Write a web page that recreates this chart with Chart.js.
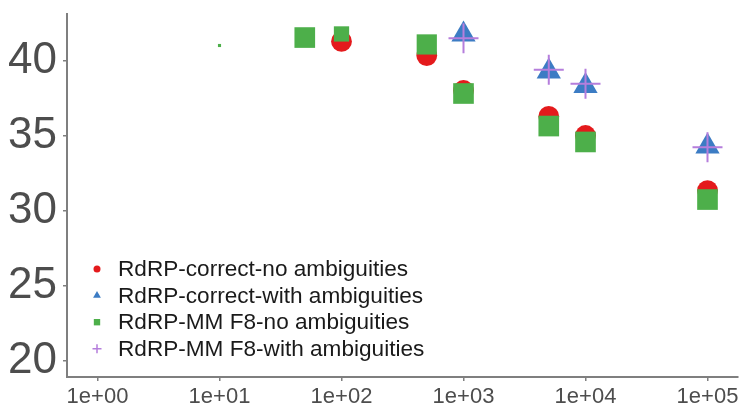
<!DOCTYPE html>
<html>
<head>
<meta charset="utf-8">
<script src="https://cdn.jsdelivr.net/npm/chart.js@4"></script>
<style>
  html, body { margin: 0; padding: 0; background: #ffffff; }
  #wrap { width: 743px; height: 407px; position: relative; }
</style>
</head>
<body>
<div id="wrap"><canvas id="c"></canvas></div>
<script>
// ---- data ----
const seriesNames = [
  'RdRP-correct-no ambiguities',
  'RdRP-correct-with ambiguities',
  'RdRP-MM F8-no ambiguities',
  'RdRP-MM F8-with ambiguities'
];
const redX   = [100, 500, 1000, 5000, 10000, 100000];
const redY   = [41.27, 40.33, 38.0, 36.27, 35.0, 31.33];
const blueX  = [1000, 5000, 10000, 100000];
const blueY  = [41.73, 39.27, 38.3, 34.27];
const greenX = [10, 50, 100, 500, 1000, 5000, 10000, 100000];
const greenY = [41.0, 41.53, 41.77, 41.07, 37.8, 35.63, 34.57, 30.73];
const purpleX = [1000, 5000, 10000, 100000];
const purpleY = [41.49, 39.38, 38.45, 34.22];
const xTicks = [1, 10, 100, 1000, 10000, 100000];
const xTickLabels = ['1e+00', '1e+01', '1e+02', '1e+03', '1e+04', '1e+05'];
const yTicks = [20, 25, 30, 35, 40];

const colors = ['#e41a1c', '#3c7cc4', '#4daf4a', '#b57edc'];

function pts(xs, ys) { return xs.map((x, i) => ({ x: x, y: ys[i] })); }

const FONT = "'Liberation Sans', Arial, sans-serif";

const legendPlugin = {
  id: 'insideLegend',
  afterDraw(chart) {
    const ctx = chart.ctx;
    const styles = ['circle', 'triangle', 'rect', 'cross'];
    const rads = [3.5, 4.5, 4.5, 4.5];
    const x0 = 97, y0 = 269, dy = 26.6;
    ctx.save();
    chart.data.datasets.forEach((ds, i) => {
      const y = y0 + i * dy;
      ctx.fillStyle = colors[i];
      ctx.strokeStyle = colors[i];
      ctx.lineWidth = 1.5;
      Chart.helpers.drawPoint(ctx, {
        pointStyle: styles[i], radius: rads[i], rotation: 0,
        borderWidth: styles[i] === 'cross' ? 1.5 : 0
      }, x0, y);
      ctx.fillStyle = '#1a1a1a';
      ctx.font = '22.6px ' + FONT;
      ctx.textAlign = 'left';
      ctx.textBaseline = 'middle';
      ctx.fillText(ds.label, 118, y + 1);
    });
    ctx.restore();
  }
};

function zeroPad(scale) {
  scale.paddingTop = 0; scale.paddingBottom = 0;
  scale.paddingLeft = 0; scale.paddingRight = 0;
}

new Chart(document.getElementById('c'), {
  type: 'scatter',
  data: {
    datasets: [
      { label: seriesNames[0], data: pts(redX, redY), order: 4,
        pointStyle: 'circle', pointRadius: 10.4, pointHoverRadius: 10.4,
        backgroundColor: colors[0], borderWidth: 0 },
      { label: seriesNames[1], data: pts(blueX, blueY), order: 3,
        pointStyle: 'triangle', pointRadius: 14, pointHoverRadius: 14,
        backgroundColor: colors[1], borderWidth: 0 },
      { label: seriesNames[2], data: pts(greenX, greenY), order: 2,
        pointStyle: 'rect', pointRadius: [2.2, 14.6, 10.8, 14.3, 14.6, 14.6, 14.6, 14.6],
        backgroundColor: colors[2], borderWidth: 0 },
      { label: seriesNames[3], data: pts(purpleX, purpleY), order: 1,
        pointStyle: 'cross', pointRadius: 15, pointHoverRadius: 15,
        backgroundColor: colors[3], borderColor: colors[3], borderWidth: 2 }
    ]
  },
  options: {
    responsive: true,
    maintainAspectRatio: false,
    animation: false,
    layout: { autoPadding: false, padding: { top: 14, right: 5, left: 0, bottom: 0 } },
    plugins: { legend: { display: false }, tooltip: { enabled: false }, title: { display: false } },
    scales: {
      x: {
        type: 'logarithmic',
        min: Math.pow(10, -0.25),
        max: Math.pow(10, 5.25),
        afterBuildTicks: (scale) => { scale.ticks = xTicks.map(v => ({ value: v })); },
        afterFit: (scale) => { scale.height = 30; zeroPad(scale); },
        border: { display: true, color: '#7f7f7f', width: 2 },
        grid: { drawOnChartArea: false, drawTicks: true, tickLength: 4, color: '#7f7f7f', lineWidth: 1.5 },
        ticks: {
          autoSkip: false, maxRotation: 0, minRotation: 0, padding: 3,
          color: '#4d4d4d', font: { family: FONT, size: 22 },
          callback: (v, i) => xTickLabels[i]
        }
      },
      y: {
        type: 'linear',
        min: 18.9,
        max: 43.1,
        afterBuildTicks: (scale) => { scale.ticks = yTicks.map(v => ({ value: v })); },
        afterFit: (scale) => { scale.width = 67; zeroPad(scale); },
        border: { display: true, color: '#7f7f7f', width: 2 },
        grid: { drawOnChartArea: false, drawTicks: true, tickLength: 4, color: '#7f7f7f', lineWidth: 1.5 },
        ticks: {
          padding: 6, color: '#4d4d4d', font: { family: FONT, size: 44 },
          callback: (v) => String(v)
        }
      }
    }
  },
  plugins: [legendPlugin]
});
</script>
</body>
</html>
